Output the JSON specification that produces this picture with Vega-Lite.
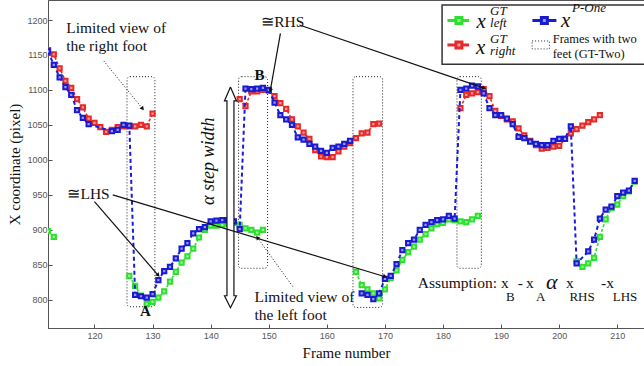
{
  "$schema": "https://vega.github.io/schema/vega-lite/v6.json",
  "width": 596,
  "height": 328,
  "autosize": "none",
  "padding": {"left": 48, "top": 0, "right": 0, "bottom": 38},
  "background": "white",
  "config": {
    "view": {"stroke": "#555", "strokeWidth": 1},
    "axis": {"grid": false, "domainColor": "#555", "tickColor": "#555", "labelFont": "Liberation Sans", "labelFontSize": 9, "labelColor": "#555", "titleFont": "Liberation Serif", "titleFontSize": 15, "titleFontWeight": "normal", "titleColor": "#111", "tickSize": -4}
  },
  "datasets": {
    "pts": [
      {"s":"L","g":1,"f":112,"v":898},{"s":"L","g":1,"f":113,"v":890},
      {"s":"L","g":2,"f":126,"v":834},{"s":"L","g":2,"f":127,"v":820},{"s":"L","g":2,"f":128,"v":806},{"s":"L","g":2,"f":129,"v":794},{"s":"L","g":2,"f":130,"v":797},{"s":"L","g":2,"f":131,"v":803},{"s":"L","g":2,"f":132,"v":812},{"s":"L","g":2,"f":133,"v":826},{"s":"L","g":2,"f":134,"v":840},{"s":"L","g":2,"f":135,"v":853},{"s":"L","g":2,"f":136,"v":862},{"s":"L","g":2,"f":137,"v":873},{"s":"L","g":2,"f":138,"v":889},{"s":"L","g":2,"f":139,"v":900},{"s":"L","g":2,"f":140,"v":906},{"s":"L","g":2,"f":141,"v":906},{"s":"L","g":2,"f":142,"v":907},{"s":"L","g":2,"f":143,"v":909},{"s":"L","g":2,"f":144,"v":910},{"s":"L","g":2,"f":145,"v":907},{"s":"L","g":2,"f":146,"v":902},{"s":"L","g":2,"f":147,"v":900},{"s":"L","g":2,"f":148,"v":896},{"s":"L","g":2,"f":149,"v":900},
      {"s":"L","g":3,"f":165,"v":840},{"s":"L","g":3,"f":166,"v":821},{"s":"L","g":3,"f":167,"v":815},{"s":"L","g":3,"f":168,"v":809},{"s":"L","g":3,"f":169,"v":802},{"s":"L","g":3,"f":170,"v":815},{"s":"L","g":3,"f":171,"v":831},{"s":"L","g":3,"f":172,"v":842},{"s":"L","g":3,"f":173,"v":857},{"s":"L","g":3,"f":174,"v":868},{"s":"L","g":3,"f":175,"v":876},{"s":"L","g":3,"f":176,"v":886},{"s":"L","g":3,"f":177,"v":894},{"s":"L","g":3,"f":178,"v":902},{"s":"L","g":3,"f":179,"v":908},{"s":"L","g":3,"f":180,"v":910},{"s":"L","g":3,"f":181,"v":915},{"s":"L","g":3,"f":182,"v":914},{"s":"L","g":3,"f":183,"v":912},{"s":"L","g":3,"f":184,"v":911},{"s":"L","g":3,"f":185,"v":915},{"s":"L","g":3,"f":186,"v":920},
      {"s":"L","g":4,"f":203,"v":855},{"s":"L","g":4,"f":204,"v":847},{"s":"L","g":4,"f":205,"v":852},{"s":"L","g":4,"f":206,"v":860},{"s":"L","g":4,"f":207,"v":890},{"s":"L","g":4,"f":208,"v":915},{"s":"L","g":4,"f":209,"v":931},{"s":"L","g":4,"f":210,"v":936},{"s":"L","g":4,"f":211,"v":948},{"s":"L","g":4,"f":212,"v":955},{"s":"L","g":4,"f":213,"v":969},
      {"s":"R","g":1,"f":112,"v":1157},{"s":"R","g":1,"f":113,"v":1151},{"s":"R","g":1,"f":114,"v":1131},{"s":"R","g":1,"f":115,"v":1113},{"s":"R","g":1,"f":116,"v":1103},{"s":"R","g":1,"f":117,"v":1087},{"s":"R","g":1,"f":118,"v":1075},{"s":"R","g":1,"f":119,"v":1059},{"s":"R","g":1,"f":120,"v":1053},{"s":"R","g":1,"f":121,"v":1047},{"s":"R","g":1,"f":122,"v":1040},{"s":"R","g":1,"f":123,"v":1043},{"s":"R","g":1,"f":124,"v":1047},{"s":"R","g":1,"f":125,"v":1048},{"s":"R","g":1,"f":126,"v":1048},{"s":"R","g":1,"f":127,"v":1048},{"s":"R","g":1,"f":128,"v":1050},{"s":"R","g":1,"f":129,"v":1048},{"s":"R","g":1,"f":130,"v":1066},
      {"s":"R","g":2,"f":145,"v":1087},{"s":"R","g":2,"f":146,"v":1077},{"s":"R","g":2,"f":147,"v":1098},{"s":"R","g":2,"f":148,"v":1098},{"s":"R","g":2,"f":149,"v":1100},{"s":"R","g":2,"f":150,"v":1099},{"s":"R","g":2,"f":151,"v":1091},{"s":"R","g":2,"f":152,"v":1081},{"s":"R","g":2,"f":153,"v":1073},{"s":"R","g":2,"f":154,"v":1058},{"s":"R","g":2,"f":155,"v":1048},{"s":"R","g":2,"f":156,"v":1039},{"s":"R","g":2,"f":157,"v":1030},{"s":"R","g":2,"f":158,"v":1014},{"s":"R","g":2,"f":159,"v":1005},{"s":"R","g":2,"f":160,"v":1004},{"s":"R","g":2,"f":161,"v":1004},{"s":"R","g":2,"f":162,"v":1012},{"s":"R","g":2,"f":163,"v":1019},{"s":"R","g":2,"f":164,"v":1024},{"s":"R","g":2,"f":165,"v":1031},{"s":"R","g":2,"f":166,"v":1038},{"s":"R","g":2,"f":167,"v":1039},{"s":"R","g":2,"f":168,"v":1051},{"s":"R","g":2,"f":169,"v":1052},
      {"s":"R","g":3,"f":183,"v":1074},{"s":"R","g":3,"f":184,"v":1093},{"s":"R","g":3,"f":185,"v":1095},{"s":"R","g":3,"f":186,"v":1097},{"s":"R","g":3,"f":187,"v":1101},{"s":"R","g":3,"f":188,"v":1091},{"s":"R","g":3,"f":189,"v":1070},{"s":"R","g":3,"f":190,"v":1063},{"s":"R","g":3,"f":191,"v":1058},{"s":"R","g":3,"f":192,"v":1055},{"s":"R","g":3,"f":193,"v":1045},{"s":"R","g":3,"f":194,"v":1035},{"s":"R","g":3,"f":195,"v":1027},{"s":"R","g":3,"f":196,"v":1021},{"s":"R","g":3,"f":197,"v":1016},{"s":"R","g":3,"f":198,"v":1017},{"s":"R","g":3,"f":199,"v":1019},{"s":"R","g":3,"f":200,"v":1020},{"s":"R","g":3,"f":201,"v":1030},{"s":"R","g":3,"f":202,"v":1038},{"s":"R","g":3,"f":203,"v":1044},{"s":"R","g":3,"f":204,"v":1049},{"s":"R","g":3,"f":205,"v":1054},{"s":"R","g":3,"f":206,"v":1058},{"s":"R","g":3,"f":207,"v":1064},
      {"s":"B","g":1,"f":112,"v":1155},{"s":"B","g":1,"f":113,"v":1136},{"s":"B","g":1,"f":114,"v":1118},{"s":"B","g":1,"f":115,"v":1104},{"s":"B","g":1,"f":116,"v":1093},{"s":"B","g":1,"f":117,"v":1071},{"s":"B","g":1,"f":118,"v":1060},{"s":"B","g":1,"f":119,"v":1051},{"s":"B","g":1,"f":123,"v":1041},{"s":"B","g":1,"f":124,"v":1043},{"s":"B","g":1,"f":125,"v":1050},{"s":"B","g":1,"f":126,"v":1049},{"s":"B","g":1,"f":127,"v":807},{"s":"B","g":1,"f":128,"v":805},{"s":"B","g":1,"f":129,"v":803},{"s":"B","g":1,"f":130,"v":808},{"s":"B","g":1,"f":131,"v":828},{"s":"B","g":1,"f":132,"v":841},{"s":"B","g":1,"f":133,"v":847},{"s":"B","g":1,"f":134,"v":859},{"s":"B","g":1,"f":135,"v":873},{"s":"B","g":1,"f":136,"v":881},{"s":"B","g":1,"f":137,"v":895},{"s":"B","g":1,"f":138,"v":901},{"s":"B","g":1,"f":139,"v":904},{"s":"B","g":1,"f":140,"v":912},{"s":"B","g":1,"f":141,"v":913},{"s":"B","g":1,"f":142,"v":914},{"s":"B","g":1,"f":143,"v":914},{"s":"B","g":1,"f":144,"v":912},{"s":"B","g":1,"f":145,"v":901},{"s":"B","g":1,"f":146,"v":1102},{"s":"B","g":1,"f":147,"v":1101},{"s":"B","g":1,"f":148,"v":1102},{"s":"B","g":1,"f":149,"v":1103},{"s":"B","g":1,"f":150,"v":1100},{"s":"B","g":1,"f":151,"v":1082},{"s":"B","g":1,"f":152,"v":1064},{"s":"B","g":1,"f":153,"v":1058},{"s":"B","g":1,"f":154,"v":1050},{"s":"B","g":1,"f":155,"v":1032},{"s":"B","g":1,"f":156,"v":1029},{"s":"B","g":1,"f":157,"v":1023},{"s":"B","g":1,"f":158,"v":1019},{"s":"B","g":1,"f":159,"v":1013},{"s":"B","g":1,"f":160,"v":1010},{"s":"B","g":1,"f":161,"v":1017},{"s":"B","g":1,"f":162,"v":1019},{"s":"B","g":1,"f":163,"v":1023},{"s":"B","g":1,"f":164,"v":1027},
      {"s":"B","g":2,"f":166,"v":809},{"s":"B","g":2,"f":167,"v":807},{"s":"B","g":2,"f":168,"v":801},{"s":"B","g":2,"f":169,"v":809},{"s":"B","g":2,"f":170,"v":830},{"s":"B","g":2,"f":171,"v":834},{"s":"B","g":2,"f":172,"v":851},{"s":"B","g":2,"f":173,"v":871},{"s":"B","g":2,"f":174,"v":881},{"s":"B","g":2,"f":175,"v":886},{"s":"B","g":2,"f":176,"v":900},{"s":"B","g":2,"f":177,"v":907},{"s":"B","g":2,"f":178,"v":911},{"s":"B","g":2,"f":179,"v":914},{"s":"B","g":2,"f":180,"v":915},{"s":"B","g":2,"f":181,"v":920},{"s":"B","g":2,"f":182,"v":916},{"s":"B","g":2,"f":183,"v":1100},{"s":"B","g":2,"f":184,"v":1102},{"s":"B","g":2,"f":185,"v":1106},{"s":"B","g":2,"f":186,"v":1105},{"s":"B","g":2,"f":187,"v":1095},{"s":"B","g":2,"f":188,"v":1074},{"s":"B","g":2,"f":189,"v":1064},{"s":"B","g":2,"f":190,"v":1064},{"s":"B","g":2,"f":191,"v":1059},{"s":"B","g":2,"f":192,"v":1051},{"s":"B","g":2,"f":193,"v":1033},{"s":"B","g":2,"f":194,"v":1031},{"s":"B","g":2,"f":195,"v":1026},{"s":"B","g":2,"f":196,"v":1023},{"s":"B","g":2,"f":197,"v":1021},{"s":"B","g":2,"f":198,"v":1021},{"s":"B","g":2,"f":199,"v":1027},{"s":"B","g":2,"f":200,"v":1030},{"s":"B","g":2,"f":201,"v":1030},{"s":"B","g":2,"f":202,"v":1048},{"s":"B","g":2,"f":203,"v":852},{"s":"B","g":2,"f":205,"v":869},{"s":"B","g":2,"f":206,"v":886},{"s":"B","g":2,"f":207,"v":916},{"s":"B","g":2,"f":208,"v":929},{"s":"B","g":2,"f":209,"v":933},{"s":"B","g":2,"f":210,"v":948},{"s":"B","g":2,"f":211,"v":953},{"s":"B","g":2,"f":212,"v":956},{"s":"B","g":2,"f":213,"v":970}
    ],
    "boxes": [
      {"f":125.6,"f2":130.4,"v":790,"v2":1119},
      {"f":144.8,"f2":149.8,"v":845,"v2":1119},
      {"f":164.5,"f2":169.6,"v":789,"v2":1119},
      {"f":182.4,"f2":186.6,"v":845,"v2":1119}
    ],
    "arr": [
      {"id":"rhs1","k":"solid","o":0,"f":152.01,"v":1181},{"id":"rhs1","k":"solid","o":1,"f":150.29,"v":1100},
      {"id":"rhs2","k":"solid","o":0,"f":155.28,"v":1192.9},{"id":"rhs2","k":"solid","o":1,"f":186.95,"v":1102.9},
      {"id":"lhs1","k":"solid","o":0,"f":120.0,"v":940.4},{"id":"lhs1","k":"solid","o":1,"f":130.9,"v":835.7},
      {"id":"lhs2","k":"solid","o":0,"f":123.15,"v":950},{"id":"lhs2","k":"solid","o":1,"f":169.91,"v":833.3},
      {"id":"dr","k":"dot","o":0,"f":121.6,"v":1141.4},{"id":"dr","k":"dot","o":1,"f":128.21,"v":1073.9},
      {"id":"dl","k":"dot","o":0,"f":154.13,"v":819},{"id":"dl","k":"dot","o":1,"f":148.11,"v":888.1}
    ],
    "heads": [
      {"f":128.21,"v":1073.9,"a":141},{"f":150.29,"v":1100,"a":190},{"f":186.95,"v":1102.9,"a":109},
      {"f":130.9,"v":835.7,"a":139},{"f":169.91,"v":833.3,"a":107},{"f":148.11,"v":888.1,"a":-36}
    ],
    "dbl": [
      {"o":0,"f":143.41,"v":1104.3},{"o":1,"f":144.44,"v":1084.3},{"o":2,"f":144.01,"v":1084.3},{"o":3,"f":144.01,"v":805.7},{"o":4,"f":144.44,"v":805.7},{"o":5,"f":143.41,"v":788.6},{"o":6,"f":142.38,"v":805.7},{"o":7,"f":142.81,"v":805.7},{"o":8,"f":142.81,"v":1084.3},{"o":9,"f":142.38,"v":1084.3},{"o":10,"f":143.41,"v":1104.3}
    ]
  },
  "encoding": {
    "x": {"field": "f", "type": "quantitative", "scale": {"domain": [112, 214.6], "nice": false, "zero": false}, "axis": {"values": [120,130,140,150,160,170,180,190,200,210], "format": "d", "title": "Frame number", "labelPadding": 7, "titlePadding": 5}},
    "y": {"field": "v", "type": "quantitative", "scale": {"domain": [759.6, 1228.6], "nice": false, "zero": false}, "axis": {"values": [800,850,900,950,1000,1050,1100,1150,1200], "format": "d", "title": "X coordinate (pixel)", "labelPadding": 5, "titlePadding": 4}}
  },
  "layer": [
    {"data": {"values": [{"f":120},{"f":130},{"f":140},{"f":150},{"f":160},{"f":170},{"f":180},{"f":190},{"f":200},{"f":210}]},
     "mark": {"type": "rule", "color": "#555", "strokeWidth": 1},
     "encoding": {"y": {"datum": 1228.6}, "y2": {"datum": 1222.9}}},
    {"data": {"name": "boxes"},
     "mark": {"type": "rect", "filled": false, "stroke": "#222", "strokeWidth": 1, "strokeDash": [1, 2], "cornerRadius": 3},
     "encoding": {"x2": {"field": "f2"}, "y2": {"field": "v2"}}},
    {"data": {"name": "pts"}, "transform": [{"filter": "datum.s === 'L'"}],
     "mark": {"type": "line", "color": "#33dd33", "strokeWidth": 1.6, "strokeDash": [3, 2], "clip": true},
     "encoding": {"detail": {"field": "g"}}},
    {"data": {"name": "pts"}, "transform": [{"filter": "datum.s === 'L'"}],
     "mark": {"type": "point", "shape": "square", "filled": true, "fill": "#9af59a", "stroke": "#2ee02e", "strokeWidth": 2, "size": 18, "opacity": 1, "clip": true}},
    {"data": {"name": "pts"}, "transform": [{"filter": "datum.s === 'R'"}],
     "mark": {"type": "line", "color": "#e52a2a", "strokeWidth": 1.6, "strokeDash": [3, 2], "clip": true},
     "encoding": {"detail": {"field": "g"}}},
    {"data": {"name": "pts"}, "transform": [{"filter": "datum.s === 'R'"}],
     "mark": {"type": "point", "shape": "square", "filled": true, "fill": "#f59a9a", "stroke": "#e52a2a", "strokeWidth": 2, "size": 18, "opacity": 1, "clip": true}},
    {"data": {"name": "pts"}, "transform": [{"filter": "datum.s === 'B'"}],
     "mark": {"type": "line", "color": "#1a1ae0", "strokeWidth": 2, "strokeDash": [4, 3], "clip": true},
     "encoding": {"detail": {"field": "g"}}},
    {"data": {"name": "pts"}, "transform": [{"filter": "datum.s === 'B'"}],
     "mark": {"type": "point", "shape": "square", "filled": true, "fill": "#9a9af0", "stroke": "#1a1ad0", "strokeWidth": 2, "size": 18, "opacity": 1, "clip": true}},
    {"data": {"values": [{"f":142.81,"f2":144.01,"v":805.7,"v2":1084.3}]},
     "mark": {"type": "rect", "fill": "white"},
     "encoding": {"x2": {"field": "f2"}, "y2": {"field": "v2"}}},
    {"data": {"name": "dbl"},
     "mark": {"type": "line", "color": "#111", "strokeWidth": 1.2},
     "encoding": {"order": {"field": "o"}}},
    {"data": {"name": "arr"}, "transform": [{"filter": "datum.k === 'solid'"}],
     "mark": {"type": "line", "color": "#111", "strokeWidth": 1.2},
     "encoding": {"detail": {"field": "id"}, "order": {"field": "o"}}},
    {"data": {"name": "arr"}, "transform": [{"filter": "datum.k === 'dot'"}],
     "mark": {"type": "line", "color": "#111", "strokeWidth": 1, "strokeDash": [1, 2]},
     "encoding": {"detail": {"field": "id"}, "order": {"field": "o"}}},
    {"data": {"name": "heads"},
     "mark": {"type": "point", "shape": "triangle", "filled": true, "color": "#111", "size": 22, "opacity": 1},
     "encoding": {"angle": {"field": "a", "type": "quantitative", "scale": null}}},
    {"data": {"values": [
       {"f":115.13,"v":1188.6,"t":"Limited view of"},
       {"f":115.13,"v":1162.9,"t":"the right foot"},
       {"f":148.69,"v":1197.6,"t":"≅RHS"},
       {"f":115.35,"v":951.4,"t":"≅LHS"},
       {"f":147.54,"v":803.9,"t":"Limited view of"},
       {"f":147.54,"v":778.6,"t":"the left foot"},
       {"f":175.65,"v":823.9,"t":"Assumption:"},
       {"f":190.0,"v":823.9,"t":"x"},
       {"f":192.86,"v":823.9,"t":"-"},
       {"f":194.3,"v":823.9,"t":"x"},
       {"f":201.19,"v":823.9,"t":"x"},
       {"f":207.21,"v":823.9,"t":"-x"}
     ]},
     "mark": {"type": "text", "font": "Liberation Serif", "fontSize": 15.5, "align": "left", "baseline": "middle", "color": "#111"},
     "encoding": {"text": {"field": "t"}}},
    {"data": {"values": [
       {"f":190.86,"v":803.9,"t":"B"},
       {"f":196.02,"v":803.9,"t":"A"},
       {"f":201.76,"v":803.9,"t":"RHS"},
       {"f":209.21,"v":803.9,"t":"LHS"}
     ]},
     "mark": {"type": "text", "font": "Liberation Serif", "fontSize": 13, "align": "left", "baseline": "middle", "color": "#111"},
     "encoding": {"text": {"field": "t"}}},
    {"data": {"values": [
       {"f":148.4,"v":1121.4,"t":"B"},
       {"f":128.78,"v":784.3,"t":"A"}
     ]},
     "mark": {"type": "text", "font": "Liberation Serif", "fontSize": 15, "fontWeight": "bold", "align": "center", "baseline": "middle", "color": "#111"},
     "encoding": {"text": {"field": "t"}}},
    {"data": {"values": [{"f":197.74,"v":825,"t":"α"}]},
     "mark": {"type": "text", "font": "Liberation Serif", "fontSize": 22, "fontStyle": "italic", "align": "left", "baseline": "middle", "color": "#111"},
     "encoding": {"text": {"field": "t"}}},
    {"data": {"values": [{"f":139.79,"v":997.9,"t":"α step width"}]},
     "mark": {"type": "text", "font": "Liberation Serif", "fontSize": 18, "fontStyle": "italic", "angle": 270, "align": "center", "baseline": "middle", "color": "#111"},
     "encoding": {"text": {"field": "t"}}},
    {"data": {"values": [{"f":179.84,"f2":216,"v":1136.7,"v2":1221.4}]},
     "mark": {"type": "rect", "fill": "white", "stroke": "#333", "strokeWidth": 1.5, "clip": true},
     "encoding": {"x2": {"field": "f2"}, "y2": {"field": "v2"}}},
    {"data": {"values": [
       {"s":"L","f":180.76,"v":1199.3},{"s":"L","f":184.49,"v":1199.3},
       {"s":"R","f":180.76,"v":1164.3},{"s":"R","f":184.49,"v":1164.3},
       {"s":"B","f":195.39,"v":1199.3},{"s":"B","f":199.52,"v":1199.3}
     ]},
     "mark": {"type": "line", "strokeWidth": 3},
     "encoding": {"detail": {"field": "s"}, "color": {"field": "s", "type": "nominal", "scale": {"domain": ["L","R","B"], "range": ["#2ee02e","#e52a2a","#1a1ad0"]}, "legend": null}}},
    {"data": {"values": [
       {"s":"L","f":182.74,"v":1199.3},
       {"s":"R","f":182.74,"v":1164.3},
       {"s":"B","f":197.45,"v":1199.3}
     ]},
     "mark": {"type": "point", "shape": "square", "filled": true, "strokeWidth": 3, "size": 36, "opacity": 1},
     "encoding": {
       "stroke": {"field": "s", "type": "nominal", "scale": {"domain": ["L","R","B"], "range": ["#2ee02e","#e52a2a","#1a1ad0"]}, "legend": null},
       "fill": {"field": "s", "type": "nominal", "scale": {"domain": ["L","R","B"], "range": ["#9af59a","#f59a9a","#9a9af0"]}, "legend": null}}},
    {"data": {"values": [{"f":195.34,"f2":198.31,"v":1158.6,"v2":1170}]},
     "mark": {"type": "rect", "filled": false, "stroke": "#222", "strokeWidth": 1, "strokeDash": [1, 2]},
     "encoding": {"x2": {"field": "f2"}, "y2": {"field": "v2"}}},
    {"data": {"values": [
       {"f":185.75,"v":1197.1,"t":"x"},
       {"f":185.7,"v":1159.6,"t":"x"},
       {"f":200.33,"v":1198.9,"t":"x"}
     ]},
     "mark": {"type": "text", "font": "Liberation Serif", "fontSize": 21, "fontStyle": "italic", "align": "left", "baseline": "middle", "color": "#111"},
     "encoding": {"text": {"field": "t"}}},
    {"data": {"values": [
       {"f":188.1,"v":1212.6,"t":"GT"},
       {"f":188.1,"v":1196.4,"t":"left"},
       {"f":188.1,"v":1172.9,"t":"GT"},
       {"f":188.1,"v":1156,"t":"right"},
       {"f":202.2,"v":1216.7,"t":"P-One"}
     ]},
     "mark": {"type": "text", "font": "Liberation Serif", "fontSize": 13, "fontStyle": "italic", "align": "left", "baseline": "middle", "color": "#111"},
     "encoding": {"text": {"field": "t"}}},
    {"data": {"values": [
       {"f":198.88,"v":1172.4,"t":"Frames with two"},
       {"f":198.88,"v":1151.4,"t":"feet (GT-Two)"}
     ]},
     "mark": {"type": "text", "font": "Liberation Serif", "fontSize": 12.5, "align": "left", "baseline": "middle", "color": "#111"},
     "encoding": {"text": {"field": "t"}}}
  ]
}
